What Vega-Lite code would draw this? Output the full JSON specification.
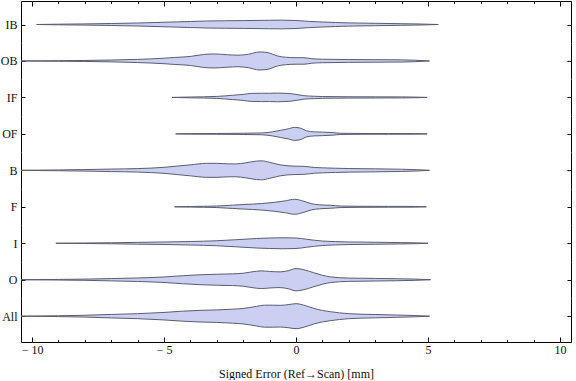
{
"$schema": "https://vega.github.io/schema/vega-lite/v6.json",
"padding": {"left": 0, "top": 0, "right": 3, "bottom": 0},
"bounds": "flush",
"spacing": 0,
"config": {
  "view": {"stroke": null},
  "axis": {"domainColor": "#000", "tickColor": "#000", "domainWidth": 1, "tickWidth": 1, "grid": false,
           "labelFont": "Liberation Serif", "labelFontSize": 12, "labelColor": "#111",
           "titleFont": "Liberation Serif", "titleFontSize": 12, "titleFontWeight": "normal", "titleColor": "#111"}
},
"data": {"values": [
{"c":"IB","x":-9.83,"d":0},{"c":"IB","x":-9,"d":0.6},{"c":"IB","x":-8,"d":1.2},{"c":"IB","x":-7,"d":2},{"c":"IB","x":-6,"d":3},{"c":"IB","x":-5,"d":4.5},{"c":"IB","x":-4,"d":6},{"c":"IB","x":-3.4,"d":7},{"c":"IB","x":-2,"d":7.8},{"c":"IB","x":-1,"d":8.5},{"c":"IB","x":-0.5,"d":8.7},{"c":"IB","x":0,"d":8},{"c":"IB","x":0.5,"d":6.2},{"c":"IB","x":1,"d":5},{"c":"IB","x":1.5,"d":4},{"c":"IB","x":2,"d":3.2},{"c":"IB","x":3,"d":2.4},{"c":"IB","x":4,"d":1.6},{"c":"IB","x":4.7,"d":1},{"c":"IB","x":5.39,"d":0},
{"c":"OB","x":-10.42,"d":0},{"c":"OB","x":-9,"d":0.6},{"c":"OB","x":-8,"d":1},{"c":"OB","x":-7,"d":1.8},{"c":"OB","x":-6,"d":3.2},{"c":"OB","x":-5,"d":5.5},{"c":"OB","x":-4.6,"d":7},{"c":"OB","x":-4,"d":9},{"c":"OB","x":-3.5,"d":13},{"c":"OB","x":-3.1,"d":14},{"c":"OB","x":-2.6,"d":12.5},{"c":"OB","x":-2.2,"d":11.5},{"c":"OB","x":-1.8,"d":13.5},{"c":"OB","x":-1.4,"d":18},{"c":"OB","x":-1.1,"d":17},{"c":"OB","x":-0.7,"d":10},{"c":"OB","x":-0.4,"d":7.5},{"c":"OB","x":0,"d":6.5},{"c":"OB","x":0.3,"d":6.5},{"c":"OB","x":0.6,"d":4.5},{"c":"OB","x":1,"d":3.5},{"c":"OB","x":2,"d":2.8},{"c":"OB","x":3,"d":2.5},{"c":"OB","x":4,"d":2.2},{"c":"OB","x":4.5,"d":1.5},{"c":"OB","x":5.06,"d":0},
{"c":"IF","x":-4.69,"d":0},{"c":"IF","x":-4,"d":0.8},{"c":"IF","x":-3,"d":2},{"c":"IF","x":-2.4,"d":4.3},{"c":"IF","x":-2,"d":6},{"c":"IF","x":-1.7,"d":8},{"c":"IF","x":-1.3,"d":8.3},{"c":"IF","x":-1,"d":8.3},{"c":"IF","x":-0.7,"d":8.7},{"c":"IF","x":-0.3,"d":8},{"c":"IF","x":0,"d":6},{"c":"IF","x":0.3,"d":3.5},{"c":"IF","x":0.7,"d":2.3},{"c":"IF","x":1,"d":1.8},{"c":"IF","x":2,"d":1.3},{"c":"IF","x":3,"d":1.1},{"c":"IF","x":4,"d":1},{"c":"IF","x":4.5,"d":0.7},{"c":"IF","x":4.97,"d":0},
{"c":"OF","x":-4.56,"d":0},{"c":"OF","x":-4,"d":0.5},{"c":"OF","x":-3,"d":0.8},{"c":"OF","x":-2,"d":1.2},{"c":"OF","x":-1.3,"d":1.8},{"c":"OF","x":-0.9,"d":4},{"c":"OF","x":-0.6,"d":7},{"c":"OF","x":-0.3,"d":10},{"c":"OF","x":-0.05,"d":13},{"c":"OF","x":0.2,"d":11},{"c":"OF","x":0.4,"d":6},{"c":"OF","x":0.7,"d":4},{"c":"OF","x":1,"d":3.5},{"c":"OF","x":1.4,"d":2.5},{"c":"OF","x":1.7,"d":1.2},{"c":"OF","x":2.5,"d":0.8},{"c":"OF","x":3.5,"d":0.7},{"c":"OF","x":4.5,"d":0.6},{"c":"OF","x":4.97,"d":0},
{"c":"B","x":-10.42,"d":0},{"c":"B","x":-9,"d":0.8},{"c":"B","x":-8,"d":1.5},{"c":"B","x":-7,"d":2.5},{"c":"B","x":-6,"d":3.5},{"c":"B","x":-5,"d":6},{"c":"B","x":-4.5,"d":8.5},{"c":"B","x":-4,"d":11},{"c":"B","x":-3.4,"d":14},{"c":"B","x":-3,"d":14},{"c":"B","x":-2.6,"d":13},{"c":"B","x":-2.3,"d":12.8},{"c":"B","x":-1.9,"d":15},{"c":"B","x":-1.5,"d":18.5},{"c":"B","x":-1.3,"d":19},{"c":"B","x":-1,"d":16},{"c":"B","x":-0.6,"d":11},{"c":"B","x":-0.3,"d":9},{"c":"B","x":0,"d":8.3},{"c":"B","x":0.3,"d":8},{"c":"B","x":0.7,"d":5.7},{"c":"B","x":1,"d":5},{"c":"B","x":1.5,"d":4.2},{"c":"B","x":2,"d":3.6},{"c":"B","x":2.5,"d":3.3},{"c":"B","x":3,"d":3},{"c":"B","x":4,"d":2.2},{"c":"B","x":4.6,"d":1.3},{"c":"B","x":5.06,"d":0},
{"c":"F","x":-4.6,"d":0},{"c":"F","x":-4,"d":0.6},{"c":"F","x":-3,"d":1.5},{"c":"F","x":-2.4,"d":3.3},{"c":"F","x":-2,"d":4.5},{"c":"F","x":-1.3,"d":6.5},{"c":"F","x":-0.8,"d":9},{"c":"F","x":-0.4,"d":12},{"c":"F","x":-0.05,"d":15},{"c":"F","x":0.3,"d":11},{"c":"F","x":0.6,"d":6},{"c":"F","x":0.9,"d":4},{"c":"F","x":1.3,"d":3},{"c":"F","x":1.7,"d":1.5},{"c":"F","x":2.5,"d":1},{"c":"F","x":3.5,"d":0.8},{"c":"F","x":4.5,"d":0.7},{"c":"F","x":4.94,"d":0},
{"c":"I","x":-9.1,"d":0},{"c":"I","x":-8,"d":0.5},{"c":"I","x":-7,"d":1},{"c":"I","x":-6,"d":1.8},{"c":"I","x":-5,"d":2.5},{"c":"I","x":-4,"d":3.5},{"c":"I","x":-3,"d":5},{"c":"I","x":-2.3,"d":7},{"c":"I","x":-1.5,"d":9.5},{"c":"I","x":-1,"d":10.5},{"c":"I","x":-0.5,"d":11},{"c":"I","x":0,"d":10.5},{"c":"I","x":0.4,"d":8},{"c":"I","x":0.7,"d":6},{"c":"I","x":1,"d":4.5},{"c":"I","x":1.5,"d":3.3},{"c":"I","x":2,"d":2.6},{"c":"I","x":3,"d":2},{"c":"I","x":4,"d":1.3},{"c":"I","x":4.6,"d":0.8},{"c":"I","x":5,"d":0},
{"c":"O","x":-10.42,"d":0},{"c":"O","x":-9,"d":0.6},{"c":"O","x":-8,"d":1.2},{"c":"O","x":-7,"d":2.3},{"c":"O","x":-6,"d":3.5},{"c":"O","x":-5,"d":5.5},{"c":"O","x":-4.3,"d":8},{"c":"O","x":-3.6,"d":10},{"c":"O","x":-3,"d":11},{"c":"O","x":-2.4,"d":11.7},{"c":"O","x":-2,"d":13},{"c":"O","x":-1.5,"d":17},{"c":"O","x":-1.3,"d":17.7},{"c":"O","x":-1,"d":16.5},{"c":"O","x":-0.6,"d":15.7},{"c":"O","x":-0.3,"d":18},{"c":"O","x":0,"d":22.3},{"c":"O","x":0.3,"d":20},{"c":"O","x":0.67,"d":14},{"c":"O","x":1,"d":9},{"c":"O","x":1.3,"d":5.7},{"c":"O","x":2,"d":3.3},{"c":"O","x":3,"d":2.6},{"c":"O","x":3.8,"d":2},{"c":"O","x":4.5,"d":1.3},{"c":"O","x":5.1,"d":0},
{"c":"All","x":-10.42,"d":0},{"c":"All","x":-9,"d":0.8},{"c":"All","x":-8,"d":1.8},{"c":"All","x":-7,"d":3.5},{"c":"All","x":-6,"d":5},{"c":"All","x":-5,"d":7.5},{"c":"All","x":-4.3,"d":10},{"c":"All","x":-3.6,"d":11.7},{"c":"All","x":-3,"d":12.5},{"c":"All","x":-2.4,"d":14},{"c":"All","x":-2,"d":15.5},{"c":"All","x":-1.5,"d":19.5},{"c":"All","x":-1.2,"d":22},{"c":"All","x":-0.9,"d":22},{"c":"All","x":-0.6,"d":21.7},{"c":"All","x":-0.3,"d":23},{"c":"All","x":0,"d":25},{"c":"All","x":0.3,"d":22},{"c":"All","x":0.67,"d":15.7},{"c":"All","x":1,"d":11.5},{"c":"All","x":1.3,"d":9},{"c":"All","x":2,"d":5},{"c":"All","x":3,"d":3.3},{"c":"All","x":3.8,"d":2.3},{"c":"All","x":4.5,"d":1.3},{"c":"All","x":5.06,"d":0}
]},
"vconcat": [
{"height": 42, "width": 550, "transform": [{"filter": {"field": "c", "equal": "IB"}}],
 "layer": [
  {"mark": {"type": "area", "interpolate": "monotone", "fill": "#cbd0f3", "strokeWidth": 0},
   "encoding": {"x": {"field": "x", "type": "quantitative", "scale": {"domain": [-10.42, 10.42], "nice": false, "zero": false}, "axis": null},
     "y": {"field": "d", "type": "quantitative", "stack": "center", "scale": {"domain": [-14.15, 27.85], "nice": false, "zero": false}, "axis": {"orient": "left", "values": [4.35], "labelExpr": "'IB'", "tickSize": -4, "labelPadding": 8, "title": null}}}},
  {"mark": {"type": "area", "interpolate": "monotone", "fillOpacity": 0, "stroke": "#5a5d6e", "strokeWidth": 1},
   "encoding": {"x": {"field": "x", "type": "quantitative", "scale": {"domain": [-10.42, 10.42], "nice": false, "zero": false}, "axis": {"orient": "top", "values": [-10,-9,-8,-7,-6,-5,-4,-3,-2,-1,0,1,2,3,4,5,6,7,8,9,10], "labels": false, "tickSize": {"condition": {"test": "datum.value % 5 === 0", "value": -5}, "value": -2.5}, "title": null}},
     "y": {"field": "d", "type": "quantitative", "stack": "center", "axis": {"orient": "right", "values": [4.35], "labels": false, "tickSize": -4, "title": null}}}}
 ],
 "resolve": {"axis": {"x": "independent", "y": "independent"}}},
{"height": 36, "width": 550, "transform": [{"filter": {"field": "c", "equal": "OB"}}],
 "layer": [
  {"mark": {"type": "area", "interpolate": "monotone", "fill": "#cbd0f3", "strokeWidth": 0},
   "encoding": {"x": {"field": "x", "type": "quantitative", "scale": {"domain": [-10.42, 10.42], "nice": false, "zero": false}, "axis": null},
     "y": {"field": "d", "type": "quantitative", "stack": "center", "scale": {"domain": [-9.04, 26.96], "nice": false, "zero": false}, "axis": {"orient": "left", "values": [9], "labelExpr": "'OB'", "tickSize": -4, "labelPadding": 8, "title": null}}}},
  {"mark": {"type": "area", "interpolate": "monotone", "fillOpacity": 0, "stroke": "#5a5d6e", "strokeWidth": 1},
   "encoding": {"x": {"field": "x", "type": "quantitative", "axis": null},
     "y": {"field": "d", "type": "quantitative", "stack": "center", "axis": {"orient": "right", "values": [9], "labels": false, "tickSize": -4, "title": null}}}}
 ],
 "resolve": {"axis": {"x": "independent", "y": "independent"}}},
{"height": 37, "width": 550, "transform": [{"filter": {"field": "c", "equal": "IF"}}],
 "layer": [
  {"mark": {"type": "area", "interpolate": "monotone", "fill": "#cbd0f3", "strokeWidth": 0},
   "encoding": {"x": {"field": "x", "type": "quantitative", "scale": {"domain": [-10.42, 10.42], "nice": false, "zero": false}, "axis": null},
     "y": {"field": "d", "type": "quantitative", "stack": "center", "scale": {"domain": [-14.23, 22.77], "nice": false, "zero": false}, "axis": {"orient": "left", "values": [4.35], "labelExpr": "'IF'", "tickSize": -4, "labelPadding": 8, "title": null}}}},
  {"mark": {"type": "area", "interpolate": "monotone", "fillOpacity": 0, "stroke": "#5a5d6e", "strokeWidth": 1},
   "encoding": {"x": {"field": "x", "type": "quantitative", "axis": null},
     "y": {"field": "d", "type": "quantitative", "stack": "center", "axis": {"orient": "right", "values": [4.35], "labels": false, "tickSize": -4, "title": null}}}}
 ],
 "resolve": {"axis": {"x": "independent", "y": "independent"}}},
{"height": 36, "width": 550, "transform": [{"filter": {"field": "c", "equal": "OF"}}],
 "layer": [
  {"mark": {"type": "area", "interpolate": "monotone", "fill": "#cbd0f3", "strokeWidth": 0},
   "encoding": {"x": {"field": "x", "type": "quantitative", "scale": {"domain": [-10.42, 10.42], "nice": false, "zero": false}, "axis": null},
     "y": {"field": "d", "type": "quantitative", "stack": "center", "scale": {"domain": [-11.62, 24.38], "nice": false, "zero": false}, "axis": {"orient": "left", "values": [6.5], "labelExpr": "'OF'", "tickSize": -4, "labelPadding": 8, "title": null}}}},
  {"mark": {"type": "area", "interpolate": "monotone", "fillOpacity": 0, "stroke": "#5a5d6e", "strokeWidth": 1},
   "encoding": {"x": {"field": "x", "type": "quantitative", "axis": null},
     "y": {"field": "d", "type": "quantitative", "stack": "center", "axis": {"orient": "right", "values": [6.5], "labels": false, "tickSize": -4, "title": null}}}}
 ],
 "resolve": {"axis": {"x": "independent", "y": "independent"}}},
{"height": 37, "width": 550, "transform": [{"filter": {"field": "c", "equal": "B"}}],
 "layer": [
  {"mark": {"type": "area", "interpolate": "monotone", "fill": "#cbd0f3", "strokeWidth": 0},
   "encoding": {"x": {"field": "x", "type": "quantitative", "scale": {"domain": [-10.42, 10.42], "nice": false, "zero": false}, "axis": null},
     "y": {"field": "d", "type": "quantitative", "stack": "center", "scale": {"domain": [-9.16, 27.84], "nice": false, "zero": false}, "axis": {"orient": "left", "values": [9.5], "labelExpr": "'B'", "tickSize": -4, "labelPadding": 8, "title": null}}}},
  {"mark": {"type": "area", "interpolate": "monotone", "fillOpacity": 0, "stroke": "#5a5d6e", "strokeWidth": 1},
   "encoding": {"x": {"field": "x", "type": "quantitative", "axis": null},
     "y": {"field": "d", "type": "quantitative", "stack": "center", "axis": {"orient": "right", "values": [9.5], "labels": false, "tickSize": -4, "title": null}}}}
 ],
 "resolve": {"axis": {"x": "independent", "y": "independent"}}},
{"height": 36, "width": 550, "transform": [{"filter": {"field": "c", "equal": "F"}}],
 "layer": [
  {"mark": {"type": "area", "interpolate": "monotone", "fill": "#cbd0f3", "strokeWidth": 0},
   "encoding": {"x": {"field": "x", "type": "quantitative", "scale": {"domain": [-10.42, 10.42], "nice": false, "zero": false}, "axis": null},
     "y": {"field": "d", "type": "quantitative", "stack": "center", "scale": {"domain": [-10.7, 25.3], "nice": false, "zero": false}, "axis": {"orient": "left", "values": [7.5], "labelExpr": "'F'", "tickSize": -4, "labelPadding": 8, "title": null}}}},
  {"mark": {"type": "area", "interpolate": "monotone", "fillOpacity": 0, "stroke": "#5a5d6e", "strokeWidth": 1},
   "encoding": {"x": {"field": "x", "type": "quantitative", "axis": null},
     "y": {"field": "d", "type": "quantitative", "stack": "center", "axis": {"orient": "right", "values": [7.5], "labels": false, "tickSize": -4, "title": null}}}}
 ],
 "resolve": {"axis": {"x": "independent", "y": "independent"}}},
{"height": 37, "width": 550, "transform": [{"filter": {"field": "c", "equal": "I"}}],
 "layer": [
  {"mark": {"type": "area", "interpolate": "monotone", "fill": "#cbd0f3", "strokeWidth": 0},
   "encoding": {"x": {"field": "x", "type": "quantitative", "scale": {"domain": [-10.42, 10.42], "nice": false, "zero": false}, "axis": null},
     "y": {"field": "d", "type": "quantitative", "stack": "center", "scale": {"domain": [-13.24, 23.76], "nice": false, "zero": false}, "axis": {"orient": "left", "values": [5.5], "labelExpr": "'I'", "tickSize": -4, "labelPadding": 8, "title": null}}}},
  {"mark": {"type": "area", "interpolate": "monotone", "fillOpacity": 0, "stroke": "#5a5d6e", "strokeWidth": 1},
   "encoding": {"x": {"field": "x", "type": "quantitative", "axis": null},
     "y": {"field": "d", "type": "quantitative", "stack": "center", "axis": {"orient": "right", "values": [5.5], "labels": false, "tickSize": -4, "title": null}}}}
 ],
 "resolve": {"axis": {"x": "independent", "y": "independent"}}},
{"height": 36, "width": 550, "transform": [{"filter": {"field": "c", "equal": "O"}}],
 "layer": [
  {"mark": {"type": "area", "interpolate": "monotone", "fill": "#cbd0f3", "strokeWidth": 0},
   "encoding": {"x": {"field": "x", "type": "quantitative", "scale": {"domain": [-10.42, 10.42], "nice": false, "zero": false}, "axis": null},
     "y": {"field": "d", "type": "quantitative", "stack": "center", "scale": {"domain": [-7.13, 28.87], "nice": false, "zero": false}, "axis": {"orient": "left", "values": [11.15], "labelExpr": "'O'", "tickSize": -4, "labelPadding": 8, "title": null}}}},
  {"mark": {"type": "area", "interpolate": "monotone", "fillOpacity": 0, "stroke": "#5a5d6e", "strokeWidth": 1},
   "encoding": {"x": {"field": "x", "type": "quantitative", "axis": null},
     "y": {"field": "d", "type": "quantitative", "stack": "center", "axis": {"orient": "right", "values": [11.15], "labels": false, "tickSize": -4, "title": null}}}}
 ],
 "resolve": {"axis": {"x": "independent", "y": "independent"}}},
{"height": 44, "width": 550, "transform": [{"filter": {"field": "c", "equal": "All"}}],
 "layer": [
  {"mark": {"type": "area", "interpolate": "monotone", "fill": "#cbd0f3", "strokeWidth": 0},
   "encoding": {"x": {"field": "x", "type": "quantitative", "scale": {"domain": [-10.42, 10.42], "nice": false, "zero": false}, "axis": {"orient": "bottom", "values": [-10,-9,-8,-7,-6,-5,-4,-3,-2,-1,0,1,2,3,4,5,6,7,8,9,10], "tickSize": {"condition": {"test": "datum.value % 5 === 0", "value": -5}, "value": -2.5}, "labelExpr": "datum.value % 5 === 0 ? (datum.value < 0 ? '\u2212 ' + abs(datum.value) : '' + datum.value) : ''", "labelOverlap": false, "labelPadding": 7, "title": "Signed Error (Ref\u2192Scan) [mm]", "titlePadding": 11}},
     "y": {"field": "d", "type": "quantitative", "stack": "center", "scale": {"domain": [-13.32, 30.68], "nice": false, "zero": false}, "axis": {"orient": "left", "values": [12.5], "labelExpr": "'All'", "tickSize": -4, "labelPadding": 8, "title": null}}}},
  {"mark": {"type": "area", "interpolate": "monotone", "fillOpacity": 0, "stroke": "#5a5d6e", "strokeWidth": 1},
   "encoding": {"x": {"field": "x", "type": "quantitative", "axis": null},
     "y": {"field": "d", "type": "quantitative", "stack": "center", "axis": {"orient": "right", "values": [12.5], "labels": false, "tickSize": -4, "title": null}}}}
 ],
 "resolve": {"axis": {"x": "independent", "y": "independent"}}}
]
}
